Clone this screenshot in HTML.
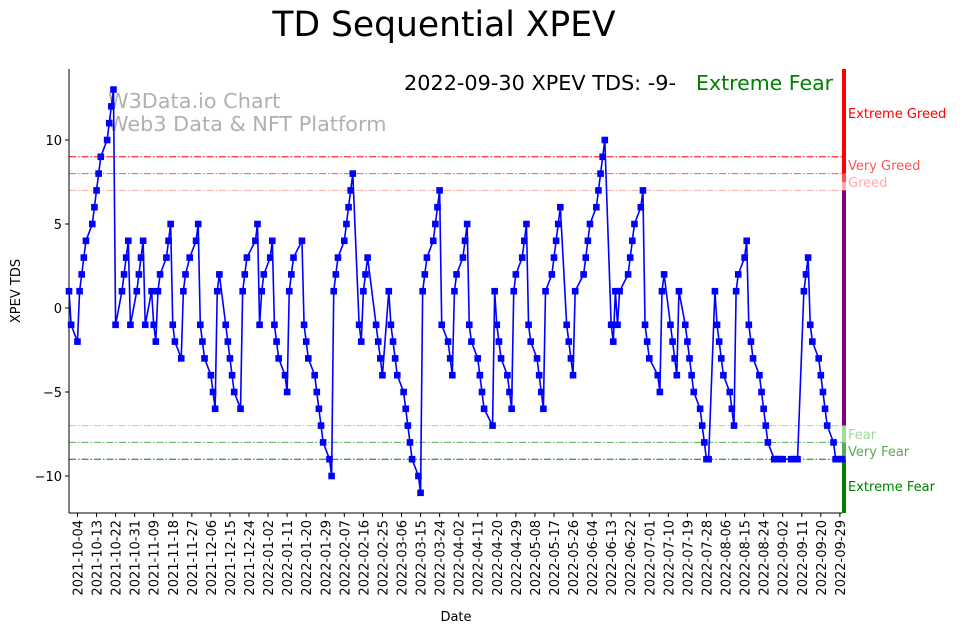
<!DOCTYPE html>
<html><head><meta charset="utf-8">
<style>
html,body{margin:0;padding:0;background:#fff;}
body{width:962px;height:633px;overflow:hidden;font-family:"Liberation Sans","DejaVu Sans",sans-serif;}
svg text{font-family:"DejaVu Sans","Liberation Sans",sans-serif;}
</style></head>
<body>
<svg id="chart" width="962" height="633" viewBox="0 0 962 633" xmlns="http://www.w3.org/2000/svg">
  <text x="444" y="36" font-size="34.5" text-anchor="middle" fill="#000">TD Sequential XPEV</text>
  <text x="108" y="108" font-size="20.8" fill="#b0b0b0">W3Data.io Chart</text>
  <text x="108" y="131" font-size="20.8" fill="#b0b0b0">Web3 Data &amp; NFT Platform</text>
  <text x="404" y="90" font-size="20.8" fill="#000">2022-09-30 XPEV TDS: -9-</text>
  <text x="696" y="90" font-size="20.5" fill="#008000">Extreme Fear</text>
  <g id="bands"></g>
  <g id="refs"></g>
  <g id="axes"></g>
  <g id="series"></g>
  <text x="456" y="621" font-size="13" text-anchor="middle">Date</text>
  <text x="0" y="0" font-size="13" text-anchor="middle" transform="translate(20,291) rotate(-90)">XPEV TDS</text>
</svg>
<script>
const levelValues = [9, 8, 7, -7, -8, -9];
const levelLabels = ["Extreme Greed", "Very Greed", "Greed", "Fear", "Very Fear", "Extreme Fear"];
const yTicks = [-10, -5, 0, 5, 10];
const holidays = ["2021-11-25","2021-12-24","2022-01-17","2022-02-21","2022-04-15","2022-05-30","2022-06-20","2022-07-04","2022-09-05"];
const startDate = "2021-09-30";
const endDate = "2022-09-30";
const tds = [
 1,-1,
 -2,1,2,3,4,
 5,6,7,8,9,
 10,11,12,13,-1,
 1,2,3,4,-1,
 1,2,3,4,-1,
 1,-1,-2,1,2,
 3,4,5,-1,-2,
 -3,1,2,3,
 4,5,-1,-2,-3,
 -4,-5,-6,1,2,
 -1,-2,-3,-4,-5,
 -6,1,2,3,
 4,5,-1,1,2,
 3,4,-1,-2,-3,
 -4,-5,1,2,3,
 4,-1,-2,-3,
 -4,-5,-6,-7,-8,
 -9,-10,1,2,3,
 4,5,6,7,8,
 -1,-2,1,2,3,
 -1,-2,-3,-4,
 1,-1,-2,-3,-4,
 -5,-6,-7,-8,-9,
 -10,-11,1,2,3,
 4,5,6,7,-1,
 -2,-3,-4,1,2,
 3,4,5,-1,-2,
 -3,-4,-5,-6,
 -7,1,-1,-2,-3,
 -4,-5,-6,1,2,
 3,4,5,-1,-2,
 -3,-4,-5,-6,1,
 2,3,4,5,6,
 -1,-2,-3,-4,1,
 2,3,4,5,
 6,7,8,9,10,
 -1,-2,1,-1,1,
 2,3,4,5,
 6,7,-1,-2,-3,
 -4,-5,1,2,
 -1,-2,-3,-4,1,
 -1,-2,-3,-4,-5,
 -6,-7,-8,-9,-9,
 1,-1,-2,-3,-4,
 -5,-6,-7,1,2,
 3,4,-1,-2,-3,
 -4,-5,-6,-7,-8,
 -9,-9,-9,-9,-9,
 -9,-9,-9,-9,
 1,2,3,-1,-2,
 -3,-4,-5,-6,-7,
 -8,-9,-9,-9,-9
];

const NS = "http://www.w3.org/2000/svg";
const X0 = 69, X1 = 842, Y0 = 69, Y1 = 513;
const DAY = 86400000;
const t0 = Date.parse(startDate + "T00:00:00Z"), t1 = Date.parse(endDate + "T00:00:00Z");
function xScale(t) { return X0 + (t - t0) / (t1 - t0) * (X1 - X0); }
function yScale(v) { return 308 - v * 16.8; }
function mk(tag, attrs, parent) {
  const e = document.createElementNS(NS, tag);
  for (const k in attrs) e.setAttribute(k, attrs[k]);
  parent.appendChild(e);
  return e;
}
function iso(t) { return new Date(t).toISOString().slice(0, 10); }

const days = [];
for (let t = t0; t <= t1; t += DAY) {
  const wd = new Date(t).getUTCDay();
  if (wd === 0 || wd === 6) continue;
  if (holidays.indexOf(iso(t)) >= 0) continue;
  days.push(t);
}

const bands = document.getElementById("bands");
const refs = document.getElementById("refs");
const axes = document.getElementById("axes");
const series = document.getElementById("series");

const bandColors = ["#ff0000", "#ff5050", "#ffaaaa", "#800080", "#a0dca0", "#55b055", "#008000"];
const bandEdges = [Y0, yScale(8), yScale(7.5) , yScale(7), yScale(-7), yScale(-8), yScale(-9), Y1];
for (let i = 0; i < 7; i++) {
  const r = mk("rect", {x: X1, y: bandEdges[i], width: 4, height: bandEdges[i + 1] - bandEdges[i], fill: bandColors[i]}, bands);
  
  
}

const lineColors = ["#ff0000", "#ff5555", "#ffaaaa", "#99dd99", "#55aa55", "#008000"];
const labelY = [113, 165, 182, 434, 451, 486];
for (let i = 0; i < levelValues.length; i++) {
  const y = yScale(levelValues[i]);
  const l = mk("line", {x1: X0, x2: X1, y1: y, y2: y, stroke: lineColors[i], "stroke-width": 1, "stroke-dasharray": "7,2,1.5,2"}, refs);
  
  
  const tx = mk("text", {x: 848, y: labelY[i] + 5, "font-size": 13, fill: lineColors[i]}, refs);
  tx.textContent = levelLabels[i];
  
  
}

const ls = mk("line", {x1: X0, x2: X0, y1: Y0, y2: Y1, stroke: "#000", "stroke-width": 1}, axes);


const bs = mk("line", {x1: X0, x2: X1, y1: Y1, y2: Y1, stroke: "#000", "stroke-width": 1}, axes);



yTicks.forEach(v => {
  const y = yScale(v);
  const tk = mk("line", {x1: X0 - 4, x2: X0, y1: y, y2: y, stroke: "#000"}, axes);
  
  
  const tl = mk("text", {x: X0 - 7, y: y + 5, "font-size": 13, "text-anchor": "end"}, axes);
  tl.textContent = v < 0 ? "\u2212" + Math.abs(v) : String(v);
  
  
});

for (let t = Date.parse("2021-10-04T00:00:00Z"); t <= t1; t += 9 * DAY) {
  const x = xScale(t);
  const tk = mk("line", {x1: x, x2: x, y1: Y1, y2: Y1 + 4, stroke: "#000"}, axes);
  
  
  const tl = mk("text", {x: 0, y: 0, "font-size": 13, "text-anchor": "end", transform: "translate(" + (x + 5) + "," + (Y1 + 7) + ") rotate(-90)"}, axes);
  tl.textContent = iso(t);
  
  
}

const n = Math.min(days.length, tds.length);
let d = "";
for (let i = 0; i < n; i++) d += (i ? "L" : "M") + xScale(days[i]).toFixed(2) + "," + yScale(tds[i]).toFixed(2);
const path = mk("path", {d: d, fill: "none", stroke: "#0000ff", "stroke-width": 1.6, "stroke-linejoin": "round"}, series);


for (let i = 0; i < n; i++) {
  const m = mk("rect", {x: xScale(days[i]) - 3.3, y: yScale(tds[i]) - 3.3, width: 6.6, height: 6.6, fill: "#0000ff"}, series);
  
  
}
</script>
</body></html>
